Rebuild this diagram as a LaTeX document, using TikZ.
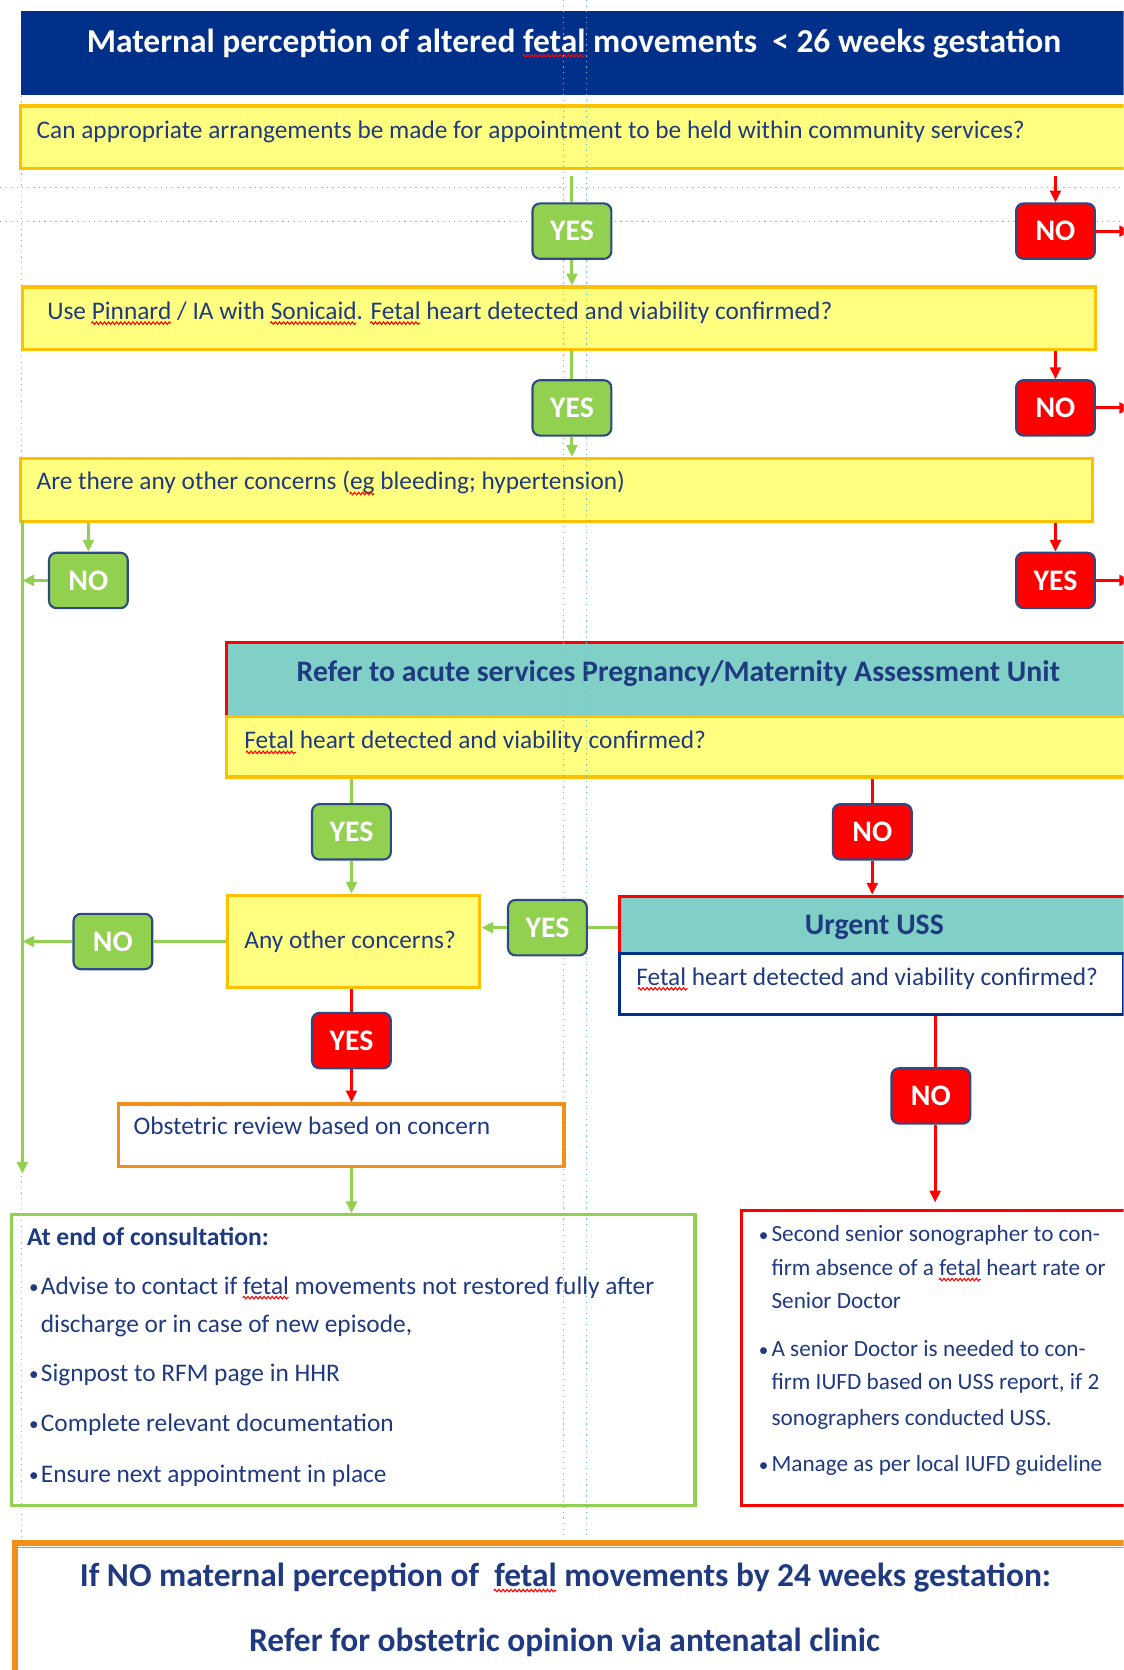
\documentclass[tikz,border=0pt]{standalone}
\usepackage{fontspec}
\setmainfont{Carlito}
\usetikzlibrary{arrows.meta,calc,decorations.pathmorphing}
\definecolor{navy}{HTML}{01308A}
\definecolor{txt}{HTML}{1F3A80}
\definecolor{yel}{HTML}{FFFF80}
\definecolor{gold}{HTML}{FFC000}
\definecolor{orng}{HTML}{F0901A}
\definecolor{grn}{HTML}{92D050}
\definecolor{rd}{HTML}{FF0000}
\definecolor{tealc}{HTML}{80D0C8}
\definecolor{guide}{HTML}{66CCC0}
\definecolor{guideb}{HTML}{99C4F0}
\definecolor{btnb}{HTML}{2E4A86}
\newcommand\fbody{\fontsize{11.9}{14}\selectfont}
\newcommand\fsmall{\fontsize{10.9}{13}\selectfont}
\newcommand\fbig{\fontsize{15.7}{18}\selectfont\bfseries}
\tikzset{
  bigbox/.style={rectangle, inner sep=0pt, anchor=north west},
  yq/.style={bigbox, fill=yel, draw=gold, line width=1.5pt},
  btn/.style={rectangle, rounded corners=3.5pt, draw=btnb, line width=1pt,
    minimum width=37pt, minimum height=26pt, inner sep=0pt,
    font=\fontsize{14}{16}\selectfont\bfseries, text=white},
  gbtn/.style={btn, fill=grn},
  rbtn/.style={btn, fill=rd},
  tx/.style={anchor=base west, inner sep=0pt, text=txt, font=\fbody},
  txs/.style={anchor=base west, inner sep=0pt, text=txt, font=\fsmall},
  hd/.style={anchor=base, inner sep=0pt, text=txt, font=\fontsize{14}{16}\selectfont\bfseries},
  big/.style={anchor=base, inner sep=0pt, text=txt, font=\fbig},
  gln/.style={draw=grn, line width=1.4pt},
  gar/.style={gln, -{Triangle[length=5.5pt,width=5pt]}},
  rln/.style={draw=rd, line width=1.4pt},
  rar/.style={rln, -{Triangle[length=5.5pt,width=5pt]}},
  guideline/.style={draw=guide, dotted, line width=0.6pt},
  sq/.style={draw=rd, line width=0.5pt, decorate, decoration={zigzag, amplitude=0.6pt, segment length=1.9pt}},
  ph/.style={anchor=base west, inner sep=0pt, outer sep=0pt},
}
\newcommand\mkbox[6]{\node[#6, minimum width={(#4-#2)*0.5pt}, minimum height={(#5-#3)*0.5pt}] (#1) at (#2,#3) {};}
\newcommand\bul[1]{\makebox[#1][l]{\raisebox{0.3pt}{\fontsize{9}{9}\selectfont\textbullet}}}
% squiggle: id, text node, font, prefix, word
\newcommand\sqg[5]{%
  \node[ph, font=#3] (#1p) at (#2.base west) {\phantom{#4}};
  \node[ph, font=#3] (#1w) at (#1p.base east) {\phantom{#5}};
  \draw[sq] ([yshift=-1.7pt]#1w.base west) -- ([yshift=-1.7pt]#1w.base east);}
\begin{document}
\begin{tikzpicture}[x=0.5pt,y=-0.5pt]
\useasboundingbox (0,0) rectangle (1055,1568);
\clip (0,0) rectangle (1055,1568);
\fill[white] (0,0) rectangle (1055,1568);

% title
\mkbox{title}{19}{10}{1075}{89}{bigbox, fill=navy}
\node[big, text=white] (ttitle) at (539,49) {Maternal perception of altered fetal movements~ < 26 weeks gestation};

% question boxes
\mkbox{q1}{18}{98}{1075}{157}{yq}
\node[tx] (tq1) at (34,130) {Can appropriate arrangements be made for appointment to be held within community services?};
\mkbox{q2}{20}{268}{1027}{327}{yq}
\node[tx] (tq2) at (44,300) {Use Pinnard / IA with Sonicaid. Fetal heart detected and viability confirmed?};
\mkbox{q3}{18}{429}{1024}{488}{yq}
\node[tx] (tq3) at (34,460) {Are there any other concerns (eg bleeding; hypertension)};

% refer block
\mkbox{refer}{211}{602}{1075}{671}{bigbox, fill=tealc, draw=rd, line width=1.5pt}
\node[hd] (trefer) at (637,640) {Refer to acute services Pregnancy/Maternity Assessment Unit};
\mkbox{q4}{211}{671}{1075}{728}{yq}
\node[tx] (tq4) at (229,703) {Fetal heart detected and viability confirmed?};

% any other concerns
\mkbox{q5}{212}{839}{449}{926}{yq}
\node[tx] (tq5) at (229,891) {Any other concerns?};

% urgent USS
\mkbox{urg}{580}{840}{1075}{894}{bigbox, fill=tealc, draw=rd, line width=1.5pt}
\node[hd] (turg) at (821,877) {Urgent USS};
\mkbox{uq}{580}{894}{1053}{951}{bigbox, fill=white, draw=navy, line width=1.5pt}
\node[tx] (tuq) at (597,925) {Fetal heart detected and viability confirmed?};

% obstetric review
\mkbox{obs}{110}{1035}{528}{1094}{bigbox, fill=white, draw=orng, line width=1.5pt}
\node[tx] (tobs) at (125,1065) {Obstetric review based on concern};

% end of consultation
\mkbox{fin}{9}{1139}{651}{1412}{bigbox, fill=white, draw=grn, line width=1.5pt}
\node[tx, font=\fontsize{12}{14}\selectfont\bfseries] (tf0) at (25,1169) {At end of consultation:};
\node[tx] (tf1) at (27,1215) {\bul{5.5pt}Advise to contact if fetal movements not restored fully after};
\node[tx] (tf2) at (38,1251) {discharge or in case of new episode,};
\node[tx] (tf3) at (27,1297) {\bul{5.5pt}Signpost to RFM page in HHR};
\node[tx] (tf4) at (27,1344) {\bul{5.5pt}Complete relevant documentation};
\node[tx] (tf5) at (27,1392) {\bul{5.5pt}Ensure next appointment in place};

% IUFD box
\mkbox{iufd}{695}{1135}{1075}{1412}{bigbox, fill=white, draw=rd, line width=1.5pt}
\node[txs] (ti1) at (712,1166) {\bul{6pt}Second senior sonographer to con-};
\node[txs] (ti2) at (724,1198) {firm absence of a fetal heart rate or};
\node[txs] (ti3) at (724,1229) {Senior Doctor};
\node[txs] (ti4) at (712,1274) {\bul{6pt}A senior Doctor is needed to con-};
\node[txs] (ti5) at (724,1305) {firm IUFD based on USS report, if 2};
\node[txs] (ti6) at (724,1338) {sonographers conducted USS.};
\node[txs] (ti7) at (712,1382) {\bul{6pt}Manage as per local IUFD guideline};

% bottom box
\mkbox{foot}{11}{1446}{1075}{1590}{bigbox, draw=orng, line width=3pt}
\draw[orng, line width=0.7pt] (17,1453) -- (1060,1453);
\node[big] (tfoot1) at (531,1490) {If NO maternal perception of ~fetal movements by 24 weeks gestation:};
\node[big] (tfoot2) at (530,1551) {Refer for obstetric opinion via antenatal clinic};

% spelling marks
\sqg{sa}{ttitle}{\fbig}{Maternal perception of altered }{fetal}
\sqg{sb}{tq2}{\fbody}{Use }{Pinnard}
\sqg{sc}{tq2}{\fbody}{Use Pinnard / IA with }{Sonicaid}
\sqg{sd}{tq2}{\fbody}{Use Pinnard / IA with Sonicaid. }{Fetal}
\sqg{se}{tq3}{\fbody}{Are there any other concerns (}{eg}
\sqg{sf}{tq4}{\fbody}{}{Fetal}
\sqg{sg}{tuq}{\fbody}{}{Fetal}
\sqg{sh}{tf1}{\fbody}{\bul{5.5pt}Advise to contact if }{fetal}
\sqg{si}{ti2}{\fsmall}{firm absence of a }{fetal}
\sqg{sj}{tfoot1}{\fbig}{If NO maternal perception of ~}{fetal}

% guides
\draw[guideline] (529,0) -- (529,1443);
\draw[guideline] (551,0) -- (551,1443);
\draw[guideline] (0,176) -- (1055,176);
\draw[guideline] (0,208) -- (1055,208);
\draw[draw=guideb, dotted, line width=0.6pt] (20,90) -- (20,1443);

% buttons
\node[gbtn] (yes1) at (537,217) {YES};
\node[rbtn] (no1) at (991,217) {NO};
\node[gbtn] (yes2) at (537,383) {YES};
\node[rbtn] (no2) at (991,383) {NO};
\node[gbtn] (noA) at (83,545) {NO};
\node[rbtn] (yesA) at (991,545) {YES};
\node[gbtn] (yesB) at (330,781) {YES};
\node[rbtn] (noB) at (819,781) {NO};
\node[gbtn] (yesC) at (514,871) {YES};
\node[gbtn] (noC) at (106,884) {NO};
\node[rbtn] (yesD) at (330,977) {YES};
\node[rbtn] (noD) at (874,1029) {NO};

% free ends
\coordinate (o1) at (1062,217);
\coordinate (o2) at (1062,383);
\coordinate (o3) at (1062,545);
\coordinate (lt) at (21,488);
\coordinate (lb) at (21,1102);

% connectors
\draw[gln] ([yshift=-2.5pt]yes1.north |- q1.south) -- (yes1.north);
\draw[gar] (yes1.south) -- (yes1.south |- q2.north);
\draw[rar] ([yshift=-2.5pt]no1.north |- q1.south) -- (no1.north);
\draw[rar] (no1.east) -- (no1.east -| o1);
\draw[gln] (yes2.north |- q2.south) -- (yes2.north);
\draw[gar] (yes2.south) -- (yes2.south |- q3.north);
\draw[rar] (no2.north |- q2.south) -- (no2.north);
\draw[rar] (no2.east) -- (no2.east -| o2);
\draw[gar] (noA.north |- q3.south) -- (noA.north);
\draw[gar] (noA.west) -- (noA.west -| lt);
\draw[gar] (lt) -- (lb);
\draw[rar] (yesA.north |- q3.south) -- (yesA.north);
\draw[rar] (yesA.east) -- (yesA.east -| o3);
\draw[gln] (yesB.north |- q4.south) -- (yesB.north);
\draw[gar] (yesB.south) -- (yesB.south |- q5.north);
\draw[rln] (noB.north |- q4.south) -- (noB.north);
\draw[rar] (noB.south) -- (noB.south |- urg.north);
\draw[gln] (yesC.east -| urg.west) -- (yesC.east);
\draw[gar] (yesC.west) -- (yesC.west -| q5.east);
\draw[gln] (noC.east -| q5.west) -- (noC.east);
\draw[gar] (noC.west) -- (noC.west -| lt);
\draw[rln] (yesD.north |- q5.south) -- (yesD.north);
\draw[rar] (yesD.south) -- (yesD.south |- obs.north);
\draw[gar] (yesD.south |- obs.south) -- (yesD.south |- fin.north);
\draw[rln] ([xshift=2pt]noD.north |- uq.south) -- ([xshift=2pt]noD.north);
\draw[rar, shorten >=3pt] ([xshift=2pt]noD.south) -- ([xshift=2pt]noD.south |- iufd.north);
\end{tikzpicture}
\end{document}
